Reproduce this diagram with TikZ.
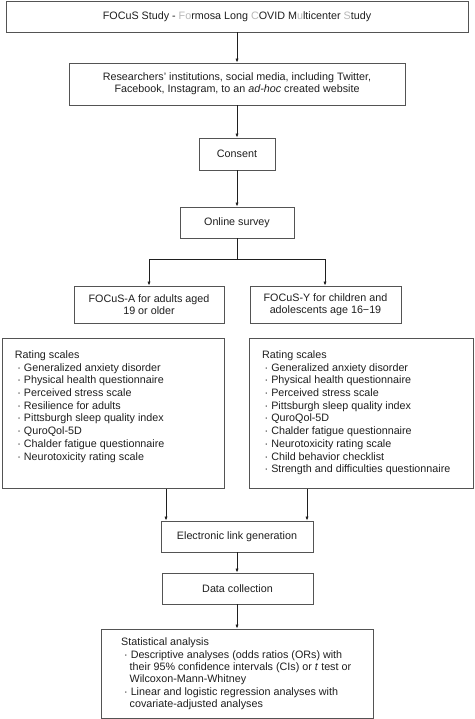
\documentclass[tikz,border=0pt]{standalone}
\usepackage{fontspec}
\setmainfont{Liberation Sans}
\usetikzlibrary{arrows.meta}
\definecolor{lite}{gray}{0.72}
\definecolor{edge}{gray}{0.33}
\definecolor{ink}{gray}{0.12}
\tikzset{
  box/.style={draw=edge, line width=0.9pt, fill=white, inner sep=0pt, align=center, text=ink,
    font=\fontsize{10.75}{12}\selectfont},
  txt/.style={inner sep=0pt, anchor=north west, align=left, text=ink,
    font=\fontsize{10.75}{12.7}\selectfont},
  stxt/.style={txt, font=\fontsize{10.75}{12.4}\selectfont},
  conn/.style={draw=ink, line width=0.7pt, -{Latex[length=4pt,width=3.2pt]}},
  plain/.style={draw=ink, line width=0.7pt}
}
\begin{document}
\begin{tikzpicture}[x=1pt,y=-1pt]
\useasboundingbox[fill=white] (0,0) rectangle (474,719);
\node[box, minimum width=462, minimum height=31] (top) at (237,16.5)
  {FOCuS Study - \textcolor{lite}{Fo}rmosa Long \textcolor{lite}{C}OVID M\textcolor{lite}{u}lticenter \textcolor{lite}{S}tudy};
\node[box, minimum width=336, minimum height=42] (src) at (237,84)
  {Researchers' institutions, social media, including Twitter,\\Facebook, Instagram, to an \textit{ad-hoc} created website};
\node[box, minimum width=76, minimum height=32] (consent) at (237,154) {Consent};
\node[box, minimum width=114, minimum height=31] (online) at (237,222.5) {Online survey};
\node[box, minimum width=150, minimum height=37] (fa) at (149,304.5) {FOCuS-A for adults aged\\19 or older};
\node[box, minimum width=151, minimum height=37] (fy) at (325.5,304.5) {FOCuS-Y for children and\\adolescents age 16−19};
\node[box, minimum width=222, minimum height=150, anchor=north west] (ra) at (2,338) {};
\node[box, minimum width=224, minimum height=150, anchor=north west] (ry) at (249,338) {};
\node[txt] (rat) at (14.7,350.5) {Rating scales\\
\hspace*{2.5pt}· Generalized anxiety disorder\\
\hspace*{2.5pt}· Physical health questionnaire\\
\hspace*{2.5pt}· Perceived stress scale\\
\hspace*{2.5pt}· Resilience for adults\\
\hspace*{2.5pt}· Pittsburgh sleep quality index\\
\hspace*{2.5pt}· QuroQol-5D\\
\hspace*{2.5pt}· Chalder fatigue questionnaire\\
\hspace*{2.5pt}· Neurotoxicity rating scale};
\node[txt] (ryt) at (262,350.5) {Rating scales\\
\hspace*{2.5pt}· Generalized anxiety disorder\\
\hspace*{2.5pt}· Physical health questionnaire\\
\hspace*{2.5pt}· Perceived stress scale\\
\hspace*{2.5pt}· Pittsburgh sleep quality index\\
\hspace*{2.5pt}· QuroQol-5D\\
\hspace*{2.5pt}· Chalder fatigue questionnaire\\
\hspace*{2.5pt}· Neurotoxicity rating scale\\
\hspace*{2.5pt}· Child behavior checklist\\
\hspace*{2.5pt}· Strength and difficulties questionnaire};
\node[box, minimum width=152, minimum height=31] (link) at (237,536.5) {Electronic link generation};
\node[box, minimum width=151, minimum height=31] (data) at (237.5,588.5) {Data collection};
\node[box, minimum width=272, minimum height=89] (stat) at (237,673.5) {};
\node[stxt] (statt) at (121,637.7) {Statistical analysis\\
\hspace*{3pt}· Descriptive analyses (odds ratios (ORs) with\\
\hspace*{8.5pt}their 95\% confidence intervals (CIs) or \textit{t} test or\\
\hspace*{8.5pt}Wilcoxon-Mann-Whitney\\
\hspace*{3pt}· Linear and logistic regression analyses with\\
\hspace*{8.5pt}covariate-adjusted analyses};
\coordinate (split) at (237,259);
\draw[conn] (top) -- (src);
\draw[conn] (src) -- (consent);
\draw[conn] (consent) -- (online);
\draw[plain] (online) -- (split);
\draw[conn] (split) -| (fa.north);
\draw[conn] (split) -| ([xshift=-0.5pt]fy.north);
\draw[conn] (ra.south -| 166,0) -- (link.north -| 166,0);
\draw[conn] (ry.south -| 307,0) -- (link.north -| 307,0);
\draw[conn] (link) -- (data.north -| link.south);
\draw[conn] (data.south -| link.south) -- (stat.north -| link.south);
\end{tikzpicture}
\end{document}
